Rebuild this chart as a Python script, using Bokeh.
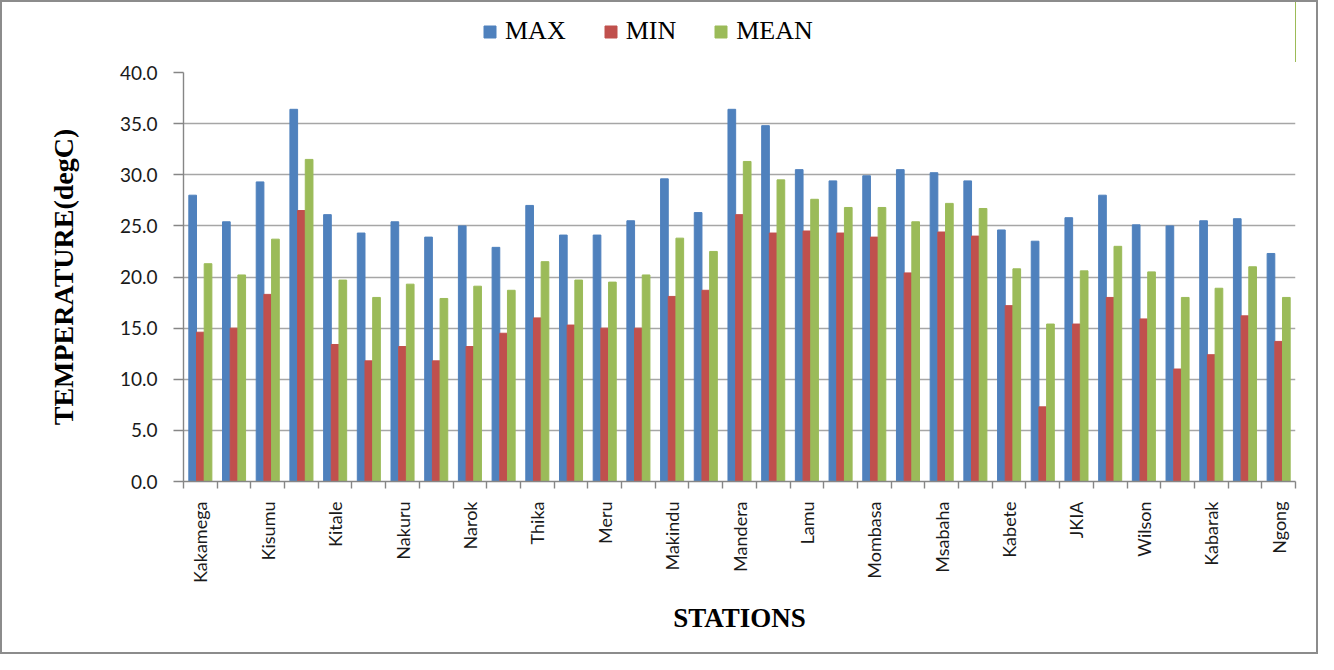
from bokeh.plotting import figure
from bokeh.models import (ColumnDataSource, Range1d, FixedTicker, PrintfTickFormatter,
                          Legend, LegendItem)
from bokeh.layouts import column
from bokeh.transform import dodge
from bokeh.embed import file_html
from bokeh.resources import INLINE

stations = ["Kakamega", "", "Kisumu", "", "Kitale", "", "Nakuru", "", "Narok", "",
            "Thika", "", "Meru", "", "Makindu", "", "Mandera", "", "Lamu", "",
            "Mombasa", "", "Msabaha", "", "Kabete", "", "JKIA", "", "Wilson", "",
            "Kabarak", "", "Ngong"]

t_max = [28.0, 25.4, 29.3, 36.4, 26.1, 24.3, 25.4, 23.9, 25.0, 22.9,
         27.0, 24.1, 24.1, 25.5, 29.6, 26.3, 36.4, 34.8, 30.5, 29.4,
         29.9, 30.5, 30.2, 29.4, 24.6, 23.5, 25.8, 28.0, 25.1, 25.0,
         25.5, 25.7, 22.3]
t_min = [14.6, 15.0, 18.3, 26.5, 13.4, 11.8, 13.2, 11.8, 13.2, 14.5,
         16.0, 15.3, 15.0, 15.0, 18.1, 18.7, 26.1, 24.3, 24.5, 24.3,
         23.9, 20.4, 24.4, 24.0, 17.2, 7.3, 15.4, 18.0, 15.9, 11.0,
         12.4, 16.2, 13.7]
t_mean = [21.3, 20.2, 23.7, 31.5, 19.7, 18.0, 19.3, 17.9, 19.1, 18.7,
          21.5, 19.7, 19.5, 20.2, 23.8, 22.5, 31.3, 29.5, 27.6, 26.8,
          26.8, 25.4, 27.2, 26.7, 20.8, 15.4, 20.6, 23.0, 20.5, 18.0,
          18.9, 21.0, 18.0]
series_names = ["MAX", "MIN", "MEAN"]
series_fields = ["tmax", "tmin", "tmean"]
series_colors = ["#4F81BD", "#C0504D", "#9BBB59"]
y_ticks = [0, 5, 10, 15, 20, 25, 30, 35, 40]

n = len(stations)
centers = [i + 0.5 for i in range(n)]
src = ColumnDataSource(dict(x=centers, tmax=t_max, tmin=t_min, tmean=t_mean))

# ---- legend strip (top) : same series, drawn outside its visible range ----
pl = figure(width=1314, height=60, output_backend="svg", toolbar_location=None,
            x_range=Range1d(-3, -2), y_range=Range1d(0, 1),
            x_axis_location=None, y_axis_location=None,
            min_border_left=181, min_border_right=21, min_border_top=0, min_border_bottom=0)
pl.outline_line_color = None
pl.grid.visible = False
leg_r = [pl.vbar(x="x", top=f, width=0.2, source=src, fill_color=c, line_color=c)
         for f, c in zip(series_fields, series_colors)]
legend = Legend(items=[LegendItem(label=nm, renderers=[r])
                       for nm, r in zip(series_names, leg_r)],
                orientation="horizontal", location=(299, 16),
                label_text_font="Liberation Serif", label_text_font_size="26px",
                label_text_color="black",
                glyph_width=15, glyph_height=15, label_standoff=8, spacing=37,
                padding=0, margin=0, border_line_color=None,
                background_fill_alpha=0)
pl.add_layout(legend, "center")

# ---- main chart ----
p = figure(width=1314, height=590, output_backend="svg", toolbar_location=None,
           x_range=Range1d(0, n), y_range=Range1d(0, 40),
           min_border_left=181, min_border_right=21, min_border_top=10,
           min_border_bottom=171)
p.outline_line_color = None
p.background_fill_color = "white"
p.border_fill_color = "white"

bw = 0.228
for f, c, off in zip(series_fields, series_colors, [-bw, 0.0, bw]):
    p.vbar(x=dodge("x", off, range=p.x_range), top=f, width=bw, source=src,
           fill_color=c, line_color=c)

p.xgrid.grid_line_color = None
p.ygrid.grid_line_color = "#A6A6A6"
p.ygrid.grid_line_width = 1.4
p.yaxis.ticker = FixedTicker(ticks=y_ticks)
p.yaxis.formatter = PrintfTickFormatter(format="%.1f")
p.ygrid.ticker = FixedTicker(ticks=y_ticks)

p.xaxis.ticker = FixedTicker(ticks=centers, minor_ticks=list(range(n + 1)))
p.xaxis.major_label_overrides = {c: s for c, s in zip(centers, stations)}
p.xaxis.major_label_orientation = 1.5707963
p.xaxis.major_tick_line_color = None
p.xaxis.major_tick_out = 7
p.xaxis.minor_tick_out = 7
p.xaxis.minor_tick_in = 0
p.xaxis.minor_tick_line_color = "#868686"
p.xaxis.minor_tick_line_width = 1.4
p.xaxis.major_label_standoff = 13
p.xaxis.major_label_text_font = "Lato"
p.xaxis.major_label_text_font_size = "18px"
p.xaxis.major_label_text_color = "#1a1a1a"

p.yaxis.major_tick_out = 10
p.yaxis.major_tick_in = 0
p.yaxis.minor_tick_line_color = None
p.yaxis.major_tick_line_color = "#868686"
p.yaxis.major_tick_line_width = 1.4
p.yaxis.major_label_standoff = 16
p.yaxis.major_label_text_font = "Lato"
p.yaxis.major_label_text_font_size = "19px"
p.yaxis.major_label_text_color = "#1a1a1a"

for ax in (p.xaxis, p.yaxis):
    ax.axis_line_color = "#868686"
    ax.axis_line_width = 1.4
    ax.axis_label_text_font = "Liberation Serif"
    ax.axis_label_text_font_style = "bold"
    ax.axis_label_text_color = "black"

p.xaxis.axis_label = "STATIONS"
p.xaxis.axis_label_text_font_size = "27px"
p.xaxis.axis_label_standoff = 17
p.yaxis.axis_label = "TEMPERATURE(degC)"
p.yaxis.axis_label_text_font_size = "28px"
p.yaxis.axis_label_standoff = 38

layout = column(pl, p, spacing=0)
layout.styles = {"border": "2px solid #8c8c8c"}
open("out.html", "w").write(file_html(layout, INLINE))
